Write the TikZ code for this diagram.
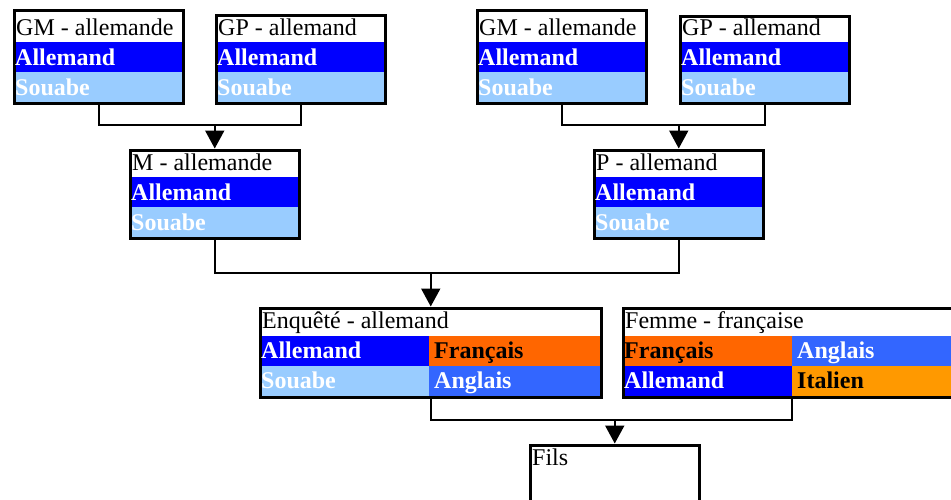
\documentclass[tikz,border=0pt]{standalone}
\usepackage{fontspec}
\setmainfont{Liberation Serif}
\usetikzlibrary{arrows.meta}
\definecolor{cAll}{HTML}{0000FF}
\definecolor{cSou}{HTML}{99CCFF}
\definecolor{cFr}{HTML}{FF6600}
\definecolor{cAng}{HTML}{3366FF}
\definecolor{cIt}{HTML}{FF9900}
\tikzset{
  box/.style={draw, line width=3.5pt, anchor=north west, inner sep=0pt, minimum width=169pt},
  hd/.style={anchor=base west, inner sep=0pt, font=\fontsize{24}{26}\selectfont},
  bt/.style={hd, font=\fontsize{24}{26}\selectfont\bfseries},
  conn/.style={line width=2pt},
  arr/.style={conn, -{Triangle[width=19pt,length=18pt]}}
}
\newcommand\simplebox[5]{%
  \fill[cAll] ({#2+1.5},{#4-61}) rectangle ({#2+170.5},{#4-31});
  \fill[cSou] ({#2+1.5},{#4-31}) rectangle ({#2+170.5},{#4-1.5});
  \node[box, minimum height={#4-#3-3}] (#1) at ({#2+1.5},{#3+1.5}) {};
  \node[hd] (#1-t) at ({#2+5},{#4-68}) {#5};
  \node[bt, text=white] (#1-a) at ({#2+4},{#4-38}) {Allemand};
  \node[bt, text=white] (#1-b) at ({#2+4},{#4-8}) {Souabe};
}
\begin{document}
\begin{tikzpicture}[x=1pt,y=-1pt]
\useasboundingbox (0,0) rectangle (951,499);
% top generation
\simplebox{gm1}{11}{7}{103}{GM - allemande}
\simplebox{gp1}{213}{12}{103}{GP - allemand}
\simplebox{gm2}{474}{7}{103}{GM - allemande}
\simplebox{gp2}{677}{13}{103}{GP - allemand}
% parents
\simplebox{m}{127}{147}{238}{M - allemande}
\simplebox{p}{591}{147}{238}{P - allemand}
% Enquete
\fill[cAll] (258.5,336) rectangle (429,366);
\fill[cFr] (429,336) rectangle (599.5,366);
\fill[cSou] (258.5,366) rectangle (429,395.5);
\fill[cAng] (429,366) rectangle (599.5,395.5);
\node[box, minimum width=341pt, minimum height=89pt] (enq) at (258.5,306.5) {};
\node[hd] (enq-t) at (262,328) {Enquêté - allemand};
\node[bt, text=white] (enq-a) at (261,358) {Allemand};
\node[bt] (enq-b) at (434,358) {Français};
\node[bt, text=white] (enq-c) at (261,388) {Souabe};
\node[bt, text=white] (enq-d) at (434,388) {Anglais};
% Femme
\fill[cFr] (621.5,336) rectangle (792,366);
\fill[cAng] (792,336) rectangle (966,366);
\fill[cAll] (621.5,366) rectangle (792,395.5);
\fill[cIt] (792,366) rectangle (966,395.5);
\node[box, minimum width=345pt, minimum height=89pt] (fem) at (621.5,306.5) {};
\node[hd] (fem-t) at (625,328) {Femme - française};
\node[bt] (fem-a) at (624,358) {Français};
\node[bt, text=white] (fem-b) at (797,358) {Anglais};
\node[bt, text=white] (fem-c) at (624,388) {Allemand};
\node[bt] (fem-d) at (797,388) {Italien};
\coordinate (femout) at (792,395.5);
% Fils
\node[box, minimum height=100pt] (fils) at (528.5,443.5) {};
\node[hd] (fils-t) at (532,465) {Fils};
% connectors
\coordinate (j1) at (m.north |- 0,125);
\draw[conn] (gm1.south) |- (j1) -| (gp1.south);
\draw[arr] (j1) -- (m.north);
\coordinate (j2) at (p.north |- 0,125);
\draw[conn] (gm2.south) |- (j2) -| (gp2.south);
\draw[arr] (j2) -- (p.north);
\coordinate (j3) at (enq.north |- 0,273);
\draw[conn] (m.south) |- (j3) -| (p.south);
\draw[arr] (j3) -- (enq.north);
\coordinate (j4) at (fils.north |- 0,420);
\draw[conn] (enq.south) |- (j4) -| (femout);
\draw[arr] (j4) -- (fils.north);
\end{tikzpicture}
\end{document}
